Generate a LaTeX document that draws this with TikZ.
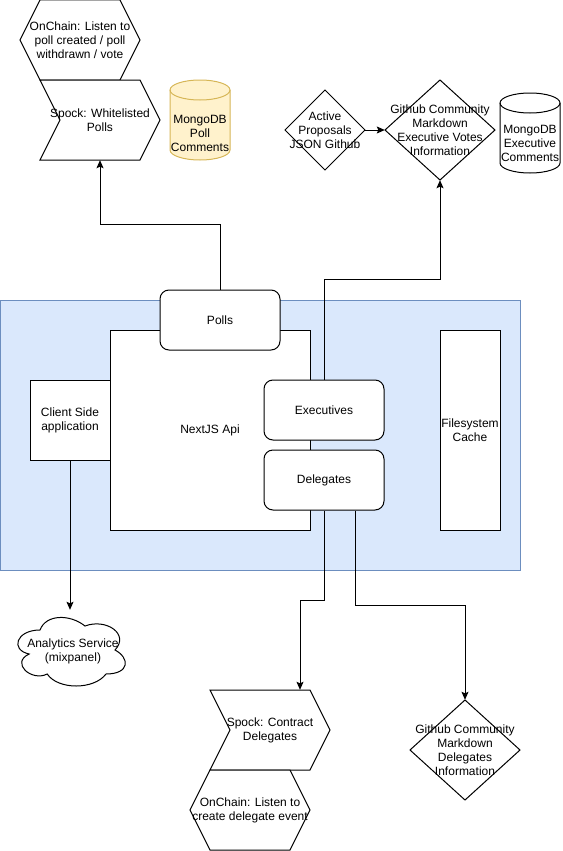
\documentclass[tikz,border=0pt]{standalone}
\usepackage{fontspec}
\setmainfont{Liberation Sans}
\usetikzlibrary{arrows.meta}
\definecolor{bluefill}{HTML}{DAE8FC}
\definecolor{bluedraw}{HTML}{6C8EBF}
\definecolor{yelfill}{HTML}{FFF2CC}
\definecolor{yeldraw}{HTML}{D6B656}
\tikzset{
  lbl/.style={inner sep=0pt, align=center, font=\fontsize{12}{14}\selectfont},
  area/.style={lbl, draw=none},
  boxed/.style={lbl, draw, fill=white, line width=1pt},
  rbox/.style={boxed, rounded corners=9pt},
  outline/.style={draw, fill=white, line width=1pt, line join=miter},
  arr/.style={draw, line width=1pt, -{Stealth[length=8pt,width=7pt,inset=1.5pt]}},
}
\begin{document}
\begin{tikzpicture}[x=1pt,y=-1pt]
\useasboundingbox (0,0) rectangle (562,851);

% container
\fill[bluefill] (0,300) rectangle (520,570);
\draw[bluedraw, line width=1pt] (0,300) rectangle (520,570);

% NextJS box and parts
\node[boxed, minimum width=200pt, minimum height=200pt] (api) at (210,430) {NextJS Api};
\node[boxed, minimum width=80pt, minimum height=80pt] (client) at (70,420) {Client Side\\application};
\node[rbox, minimum width=120pt, minimum height=60pt] (polls) at (220,320) {Polls};
\node[rbox, minimum width=120pt, minimum height=60pt] (exec) at (324,410) {Executives};
\node[rbox, minimum width=120pt, minimum height=60pt] (deleg) at (324,480) {Delegates};
\node[boxed, minimum width=60pt, minimum height=200pt] (cache) at (470,430) {Filesystem\\Cache};

% top-left hexagon and chevron
\draw[outline] (20,40) -- (40,0) -- (120,0) -- (140,40) -- (120,80) -- (40,80) -- cycle;
\node[area, minimum width=120pt, minimum height=80pt] (onchainP) at (80,40) {OnChain: Listen to\\poll created / poll\\withdrawn / vote};
\draw[outline] (40,80) -- (140,80) -- (160,120) -- (140,160) -- (40,160) -- (60,120) -- cycle;
\node[area, minimum width=120pt, minimum height=80pt] (spockP) at (100,120) {Spock: Whitelisted\\Polls};

% yellow cylinder
\filldraw[fill=yelfill, draw=yeldraw, line width=1pt] (170,90) -- (170,150) arc (180:360:30pt and 10pt) -- (230,90) arc (0:180:30pt and 10pt) -- cycle;
\draw[yeldraw, line width=1pt] (170,90) arc (180:360:30pt and 10pt);
\node[lbl] (mongoP) at (200,133) {MongoDB\\Poll\\Comments};

% active proposals diamond
\draw[outline] (285,130) -- (325,90) -- (365,130) -- (325,170) -- cycle;
\node[area, minimum width=80pt, minimum height=80pt] (active) at (325,130) {Active\\Proposals\\JSON Github};

% github exec diamond
\draw[outline] (385,130) -- (440,80) -- (495,130) -- (440,180) -- cycle;
\node[area, minimum width=110pt, minimum height=100pt] (ghExec) at (440,130) {Github Community\\Markdown\\Executive Votes\\Information};

% exec cylinder
\filldraw[fill=white, draw=black, line width=1pt] (500,103) -- (500,163) arc (180:360:30pt and 10pt) -- (560,103) arc (0:180:30pt and 10pt) -- cycle;
\draw[line width=1pt] (500,103) arc (180:360:30pt and 10pt);
\node[lbl] (mongoE) at (530,143) {MongoDB\\Executive\\Comments};

% cloud
\draw[outline] (40,630) .. controls (16,630) and (10,650) .. (29.2,654)
  .. controls (10,662.8) and (31.6,682) .. (47.2,674)
  .. controls (58,690) and (94,690) .. (106,674)
  .. controls (130,674) and (130,658) .. (115,650)
  .. controls (130,634) and (106,618) .. (85,626)
  .. controls (70,614) and (46,614) .. (40,630) -- cycle;
\node[area, minimum width=120pt, minimum height=80pt] (cloud) at (70,650) {};
\node[lbl] (cloudtxt) at (73,651) {Analytics Service\\(mixpanel)};

% bottom chevron and hexagon
\draw[outline] (210,690) -- (310,690) -- (330,730) -- (310,770) -- (210,770) -- (230,730) -- cycle;
\node[area, minimum width=120pt, minimum height=80pt] (spockC) at (270,730) {Spock: Contract\\Delegates};
\draw[outline] (190,810) -- (210,770) -- (290,770) -- (310,810) -- (290,850) -- (210,850) -- cycle;
\node[area, minimum width=120pt, minimum height=80pt] (onchainC) at (250,810) {OnChain: Listen to\\create delegate event};

% github delegates diamond
\draw[outline] (410,750) -- (465,700) -- (520,750) -- (465,800) -- cycle;
\node[area, minimum width=110pt, minimum height=100pt] (ghDel) at (465,750) {Github Community\\Markdown\\Delegates\\Information};

% connectors
\draw[arr] (polls.north) -- ++(0,-65) -| (spockP.south);
\draw[arr] (exec.north) -- ++(0,-100) -| (ghExec.south);
\draw[arr] (active.east) -- (ghExec.west);
\draw[arr] (client.south) -- (cloud.north);
\draw[arr] (deleg.south) -- ++(0,90) -| ([xshift=30pt]spockC.north);
\draw[arr] ([xshift=31pt]deleg.south) -- ++(0,95) -| (ghDel.north);
\end{tikzpicture}
\end{document}
